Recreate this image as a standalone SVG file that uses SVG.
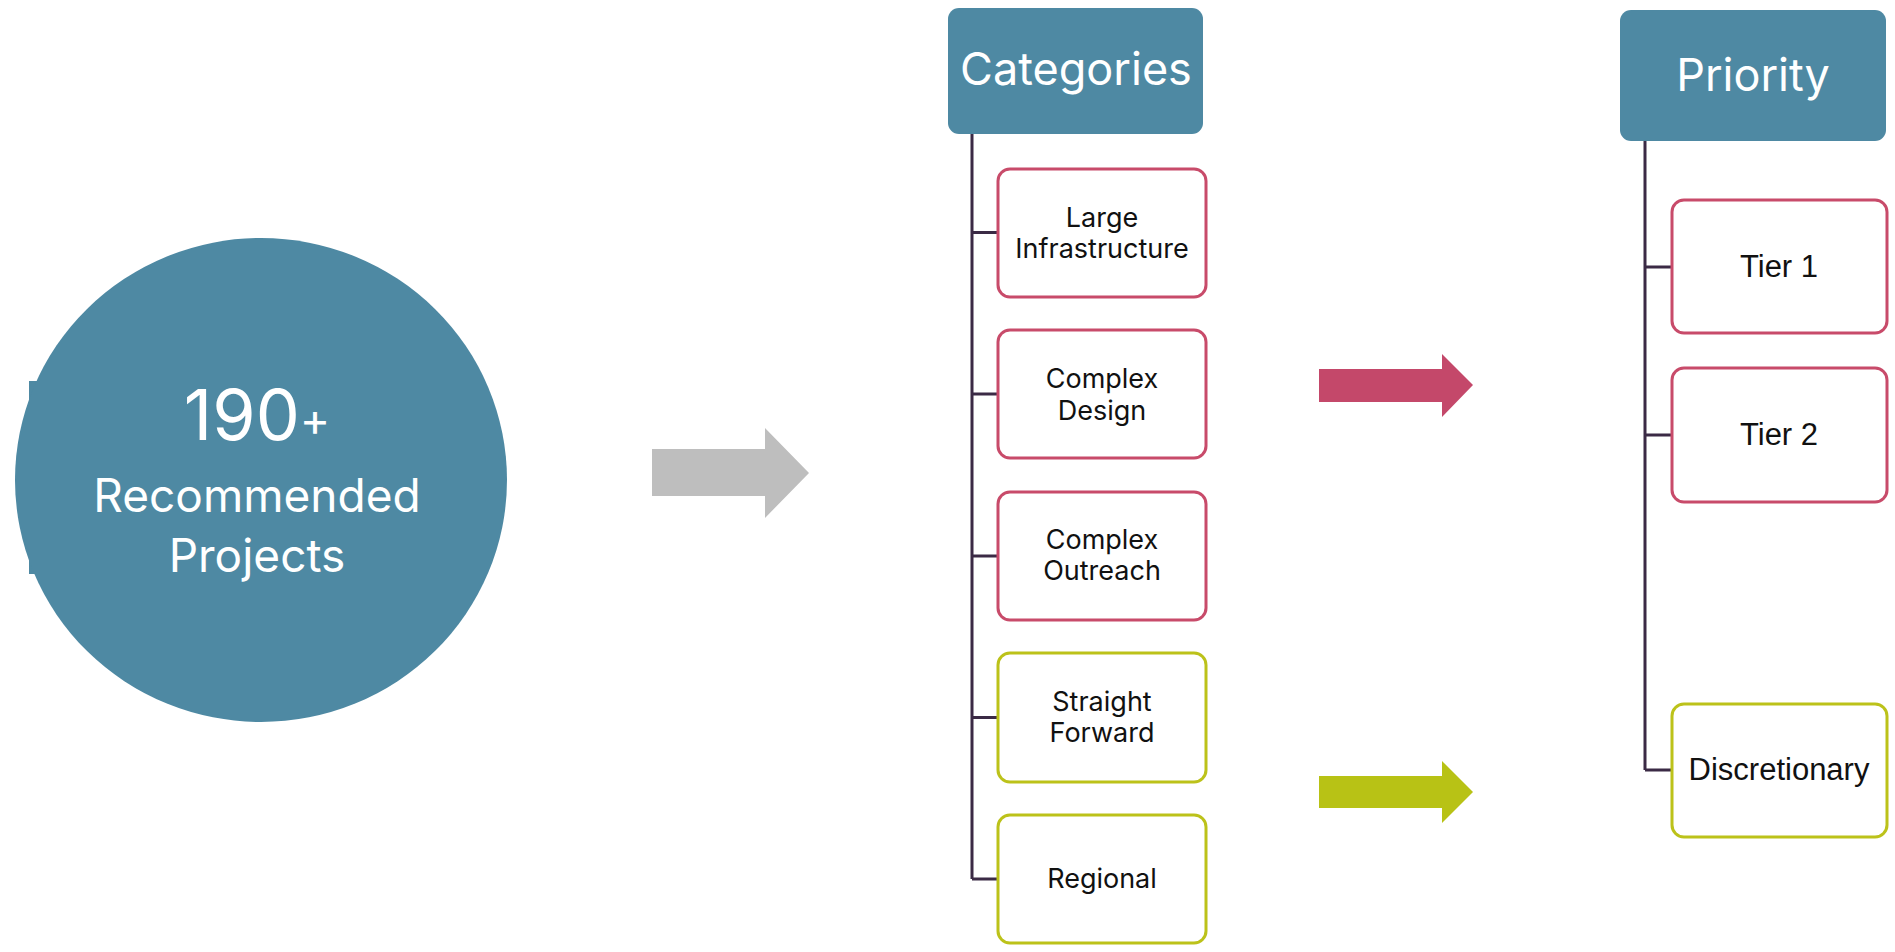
<svg xmlns="http://www.w3.org/2000/svg" width="1895" height="952" viewBox="0 0 1895 952">
<style>
.hdr{fill:#4E89A3}
.big{font-family:Inter,"Noto Sans",sans-serif;fill:#ffffff;text-anchor:middle;font-weight:400}
.box{fill:#ffffff;stroke-width:3}
.red{stroke:#C84B6A}
.grn{stroke:#BCC21A}
.lbl{font-family:Inter,"Noto Sans",sans-serif;font-size:27px;fill:#111111;text-anchor:middle}
.tier{font-family:"Liberation Sans",Arial,sans-serif;font-size:31px;fill:#111111;text-anchor:middle}
.ln{stroke:#3B2A45;stroke-width:3;fill:none}
</style>
<rect width="1895" height="952" fill="#ffffff"/>
<g id="circle-node">
<rect x="29" y="381" width="120" height="193" class="hdr"/>
<ellipse cx="261" cy="480" rx="246" ry="242" class="hdr"/>
<text x="257" y="440" class="big" font-size="70">190<tspan font-size="46" dy="-4">+</tspan></text>
<text x="257" y="512" class="big" font-size="46">Recommended</text>
<text x="257" y="572" class="big" font-size="46">Projects</text>
</g>
<g id="arrows">
<polygon points="652,449 765,449 765,428 809,473 765,518 765,496 652,496" fill="#BEBEBE"/>
<polygon points="1319,369 1442,369 1442,354 1473,385 1442,417 1442,402 1319,402" fill="#C4486A"/>
<polygon points="1319,776 1442,776 1442,761 1473,792 1442,823 1442,808 1319,808" fill="#B8C215"/>
</g>
<g id="connectors">
<path class="ln" d="M972,134 V879 M972,232.5 H998 M972,394 H998 M972,556 H998 M972,717.5 H998 M972,879 H998"/>
<path class="ln" d="M1645,141 V770 M1645,267 H1672 M1645,435 H1672 M1645,770 H1672"/>
</g>
<g id="categories">
<rect x="948" y="8" width="255" height="126" rx="11" class="hdr"/>
<text x="1076" y="85" class="big" font-size="45">Categories</text>
</g>
<g id="large-infrastructure">
<rect x="998" y="169" width="208" height="128" rx="12" class="box red"/>
<text x="1102" y="227" class="lbl">Large</text>
<text x="1102" y="258" class="lbl">Infrastructure</text>
</g>
<g id="complex-design">
<rect x="998" y="330" width="208" height="128" rx="12" class="box red"/>
<text x="1102" y="388" class="lbl">Complex</text>
<text x="1102" y="420" class="lbl">Design</text>
</g>
<g id="complex-outreach">
<rect x="998" y="492" width="208" height="128" rx="12" class="box red"/>
<text x="1102" y="549" class="lbl">Complex</text>
<text x="1102" y="580" class="lbl">Outreach</text>
</g>
<g id="straight-forward">
<rect x="998" y="653" width="208" height="129" rx="12" class="box grn"/>
<text x="1102" y="711" class="lbl">Straight</text>
<text x="1102" y="742" class="lbl">Forward</text>
</g>
<g id="regional">
<rect x="998" y="815" width="208" height="128" rx="12" class="box grn"/>
<text x="1102" y="888" class="lbl">Regional</text>
</g>
<g id="priority">
<rect x="1620" y="10" width="266" height="131" rx="11" class="hdr"/>
<text x="1753" y="91" class="big" font-size="45">Priority</text>
</g>
<g id="tier-1">
<rect x="1672" y="200" width="215" height="133" rx="12" class="box red"/>
<text x="1779" y="277" class="tier">Tier 1</text>
</g>
<g id="tier-2">
<rect x="1672" y="368" width="215" height="134" rx="12" class="box red"/>
<text x="1779" y="445" class="tier">Tier 2</text>
</g>
<g id="discretionary">
<rect x="1672" y="704" width="215" height="133" rx="12" class="box grn"/>
<text x="1779" y="780" class="tier">Discretionary</text>
</g>
</svg>
